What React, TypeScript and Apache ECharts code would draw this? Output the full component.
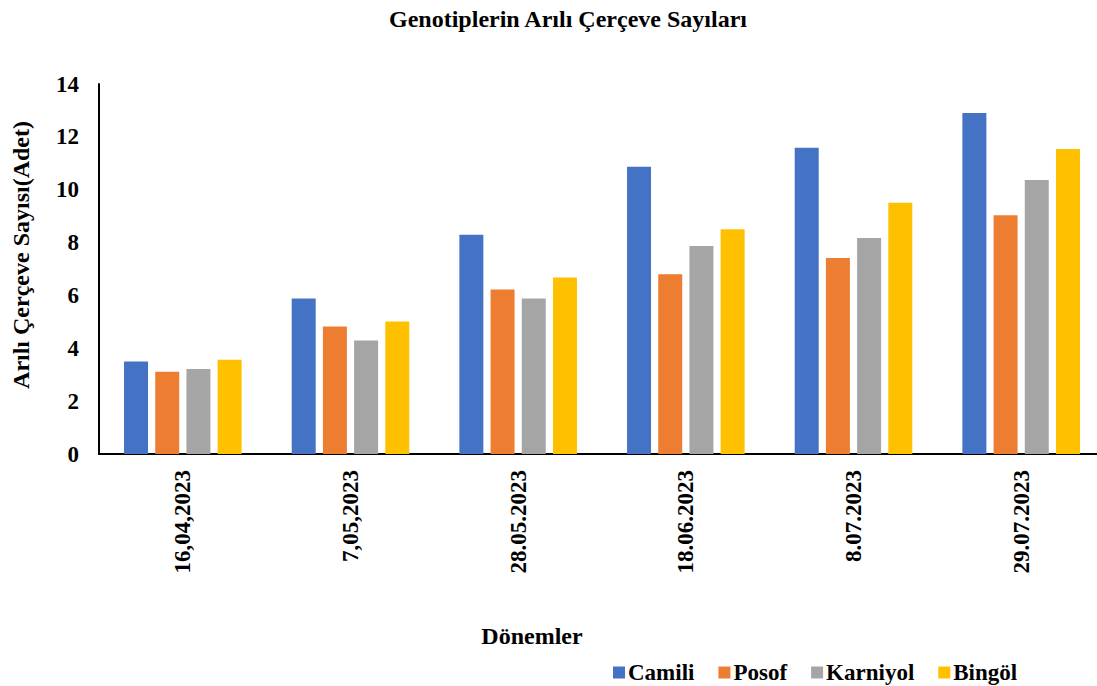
import React, { useEffect, useRef } from "react";
import * as echarts from "echarts";

const categories = ["16,04,2023", "7,05,2023", "28.05.2023", "18.06.2023", "8.07.2023", "29.07.2023"];
const camili = [3.5, 5.88, 8.3, 10.87, 11.59, 12.9];
const posof = [3.11, 4.82, 6.22, 6.8, 7.42, 9.03];
const karniyol = [3.22, 4.29, 5.88, 7.87, 8.17, 10.37];
const bingol = [3.57, 5.01, 6.68, 8.5, 9.51, 11.54];
const seriesNames = ["Camili", "Posof", "Karniyol", "Bingöl"];
const colors = ["#4472C4", "#ED7D31", "#A5A5A5", "#FFC000"];
const yTicks = { min: 0, max: 14, interval: 2 };

const FONT = "'Liberation Serif', 'Times New Roman', serif";

export default function App() {
  const ref = useRef<HTMLDivElement>(null);
  useEffect(() => {
    if (!ref.current) return;
    const chart = echarts.init(ref.current, null, { renderer: "svg" });
    const data = [camili, posof, karniyol, bingol];
    chart.setOption({
      animation: false,
      color: colors,
      textStyle: { fontFamily: FONT },
      title: {
        text: "Genotiplerin Arılı Çerçeve Sayıları",
        left: 563,
        textAlign: "center",
        top: 2,
        textStyle: { fontFamily: FONT, fontWeight: "bold", fontSize: 24, color: "#000" },
      },
      legend: {
        data: seriesNames,
        left: 608,
        top: 656,
        itemWidth: 12,
        itemHeight: 12,
        itemGap: 24,
        icon: "rect",
        textStyle: { fontFamily: FONT, fontWeight: "bold", fontSize: 23, color: "#000", padding: [0, 0, 0, -2] },
      },
      grid: { left: 99, width: 1006, top: 84, height: 370, containLabel: false },
      xAxis: {
        type: "category",
        data: categories,
        name: "Dönemler",
        nameLocation: "middle",
        nameGap: 170,
        nameTextStyle: { fontFamily: FONT, fontWeight: "bold", fontSize: 24, color: "#000", padding: [0, 140, 0, 0] },
        axisLine: { lineStyle: { color: "#000", width: 2 } },
        axisTick: { show: false },
        axisLabel: { rotate: 90, margin: 16, fontFamily: FONT, fontWeight: "bold", fontSize: 23, color: "#000" },
      },
      yAxis: {
        type: "value",
        min: yTicks.min,
        max: yTicks.max,
        interval: yTicks.interval,
        name: "Arılı Çerçeve Sayısı(Adet)",
        nameLocation: "middle",
        nameGap: 66,
        nameTextStyle: { fontFamily: FONT, fontWeight: "bold", fontSize: 24, color: "#000", padding: [0, 0, 0, 28] },
        axisLine: { show: true, lineStyle: { color: "#000", width: 2 } },
        axisTick: { show: false },
        splitLine: { show: false },
        axisLabel: { margin: 20, fontFamily: FONT, fontWeight: "bold", fontSize: 23, color: "#000" },
      },
      series: seriesNames.map((n, i) => ({
        name: n,
        type: "bar",
        data: data[i],
        barWidth: 24,
        barGap: "30%",
        itemStyle: { color: colors[i] },
      })),
    });
    return () => chart.dispose();
  }, []);
  return (
    <div style={{ position: "absolute", left: 0, top: 0, width: 1097, height: 686, overflow: "hidden" }}>
      <div ref={ref} style={{ position: "absolute", left: 0, top: 0, width: 1106, height: 686 }} />
    </div>
  );
}
